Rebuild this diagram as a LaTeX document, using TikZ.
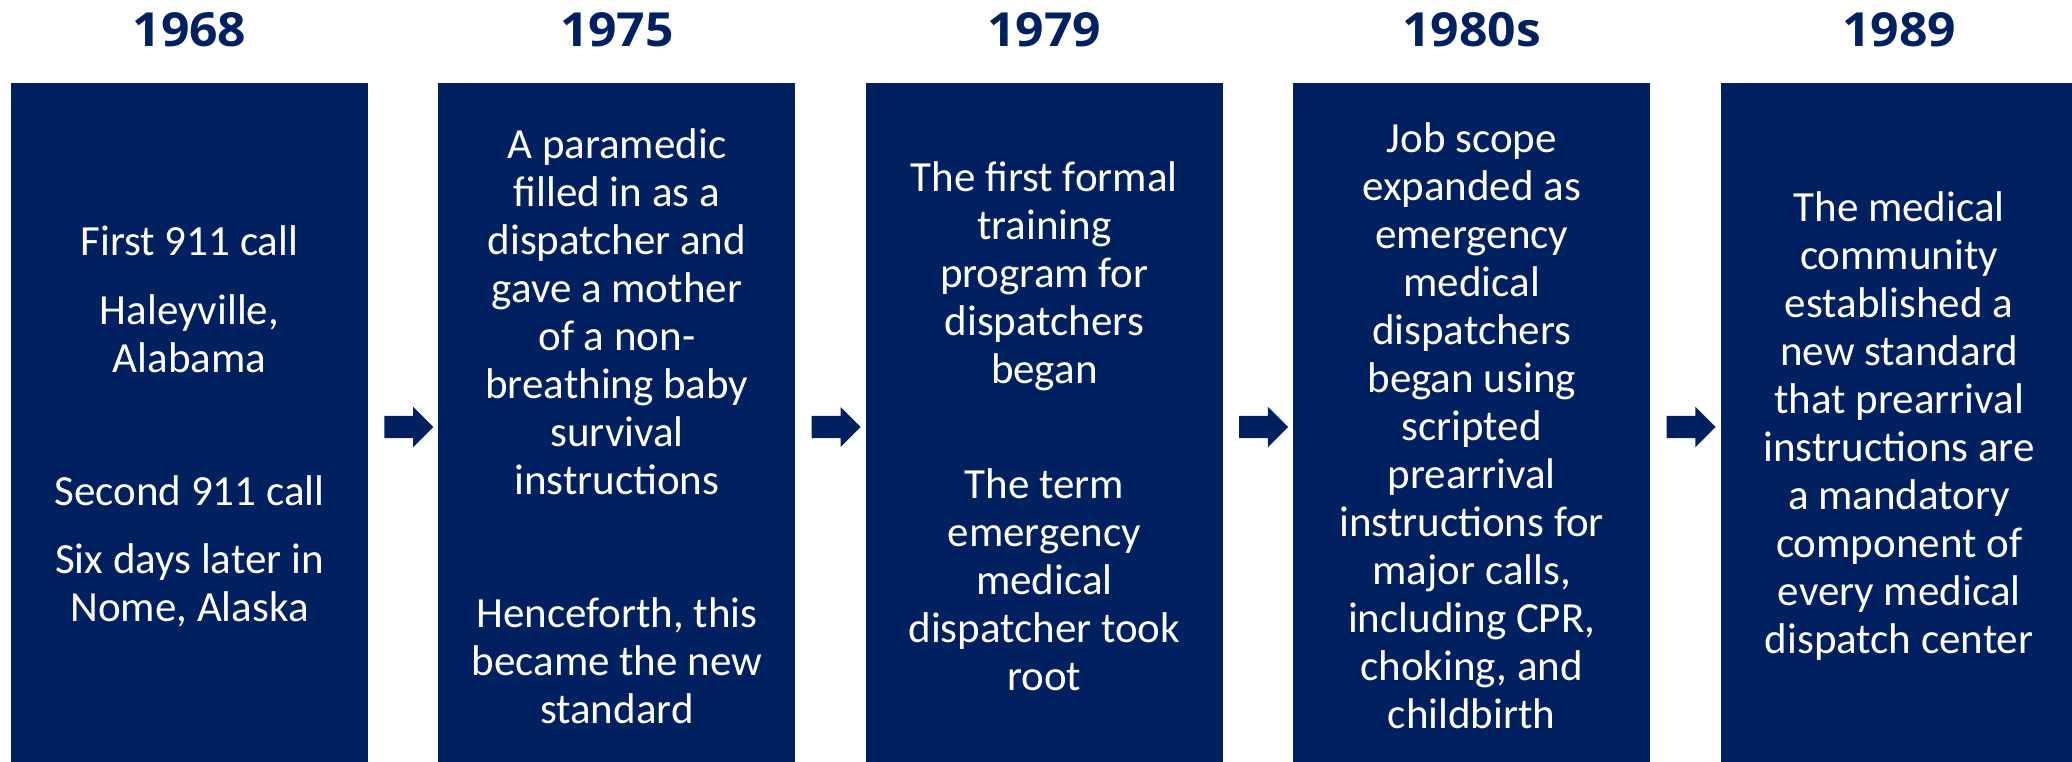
\documentclass[tikz,border=0pt]{standalone}
\usepackage{fontspec}
\setmainfont{Carlito}
\newfontfamily\yearfont{Open Sans}[FakeStretch=1.06]
\usetikzlibrary{positioning,calc,shapes.arrows}
\definecolor{boxcolor}{RGB}{0,32,96}

\begin{document}
\begin{tikzpicture}[x=1pt,y=1pt,node distance=70pt,
eventbox/.style={
  fill=boxcolor,
  text=white,
  minimum width=357pt,
  minimum height=678pt,
  inner sep=0pt,
  align=center,
  font={\fontsize{43}{48}\selectfont}},
yearlabel/.style={
  text=boxcolor,
  inner sep=0pt,
  font={\yearfont\bfseries\fontsize{47}{50}\selectfont}},
steparrow/.style={
  single arrow,
  fill=boxcolor,
  inner sep=0pt,
  text height=11pt,
  text depth=11pt,
  single arrow head extend=9pt,
  single arrow tip angle=90,
  minimum height=49pt},
]
\useasboundingbox (0,0) rectangle (2072,-761);

\node[eventbox,minimum height=686pt] (B68) at (189.5,-426) {First 911 call\\[21pt]
  Haleyville,\\ Alabama\\[85pt]
  Second 911 call\\[20pt]
  Six days later in\\ Nome, Alaska};
\node[eventbox,minimum height=686pt,right=of B68] (B75) {A paramedic\\ filled in as a\\ dispatcher and\\
  gave a mother\\ of a non-\\ breathing baby\\ survival\\ instructions\\[85pt]
  Henceforth, this\\ became the new\\ standard};
\node[eventbox,minimum height=686pt,right=of B75] (B79) {The first formal\\ training\\ program for\\
  dispatchers\\ began\\[67pt]
  The term\\ emergency\\ medical\\ dispatcher took\\ root};
\node[eventbox,minimum height=686pt,right=of B79] (B80) {Job scope\\ expanded as\\ emergency\\ medical\\
  dispatchers\\ began using\\ scripted\\ prearrival\\ instructions for\\
  major calls,\\ including CPR,\\ choking, and\\ childbirth};
\node[eventbox,minimum height=686pt,right=of B80] (B89) {The medical\\ community\\ established a\\
  new standard\\ that prearrival\\ instructions are\\ a mandatory\\
  component of\\ every medical\\ dispatch center};

% years
\node[yearlabel,above=36pt of B68] (Y68) {1968};
\node[yearlabel,above=36pt of B75] (Y75) {1975};
\node[yearlabel,above=36pt of B79] (Y79) {1979};
\node[yearlabel,above=36pt of B80] (Y80) {1980s};
\node[yearlabel,above=36pt of B89] (Y89) {1989};

% arrows between the boxes
\node[steparrow] (A1) at ($(B68.east)!0.5!(B75.west)+(0,-1)$) {};
\node[steparrow] (A2) at ($(B75.east)!0.5!(B79.west)+(0,-1)$) {};
\node[steparrow] (A3) at ($(B79.east)!0.5!(B80.west)+(0,-1)$) {};
\node[steparrow] (A4) at ($(B80.east)!0.5!(B89.west)+(0,-1)$) {};
\end{tikzpicture}
\end{document}
